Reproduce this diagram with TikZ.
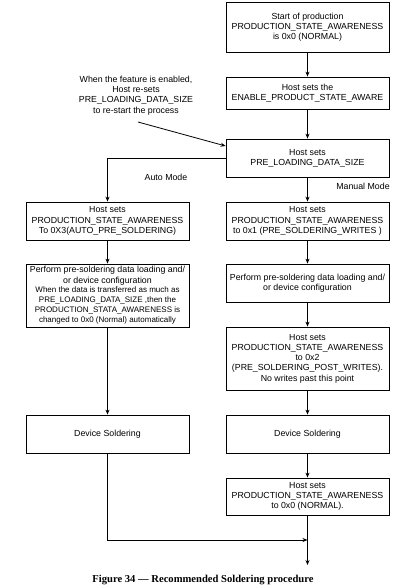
\documentclass[tikz,border=0pt]{standalone}
\usepackage{fontspec}
\setmainfont{Liberation Sans}
\newfontfamily\capfont{Liberation Serif}
\usetikzlibrary{arrows.meta}
\begin{document}
\begin{tikzpicture}[x=1pt,y=-1pt,
  box/.style={draw, line width=0.8pt, minimum width=163pt, align=center, inner sep=1pt,
    font=\fontsize{8.8}{10.2}\selectfont},
  lbl/.style={align=center, inner sep=0pt, font=\fontsize{8.8}{10.2}\selectfont},
  conn/.style={line width=0.8pt, -{Stealth[length=5pt,width=4pt]}},
  plain/.style={line width=0.8pt}]
\useasboundingbox (0,0) rectangle (410,587);
\node[box, minimum height=50pt] (b1) at (307.5,27) {Start of production\\PRODUCTION\_STATE\_AWARENESS\\is 0x0 (NORMAL)};
\node[box, minimum height=32pt] (b2) at (307.5,93) {Host sets the\\ENABLE\_PRODUCT\_STATE\_AWARE};
\node[box, minimum height=38pt] (b3) at (307.5,158) {Host sets\\PRE\_LOADING\_DATA\_SIZE};
\node[lbl] (ann) at (136,95.5) {When the feature is enabled,\\Host re-sets\\PRE\_LOADING\_DATA\_SIZE\\to re-start the process};
\node[lbl] (auto) at (166,177) {Auto Mode};
\node[lbl] (man) at (363,186) {Manual Mode};
\node[box, minimum height=38pt] (l1) at (107.5,221) {Host sets\\PRODUCTION\_STATE\_AWARENESS\\To 0X3(AUTO\_PRE\_SOLDERING)};
\node[box, minimum height=38pt] (r1) at (307.5,221) {Host sets\\PRODUCTION\_STATE\_AWARENESS\\to 0x1 (PRE\_SOLDERING\_WRITES )};
\node[box, minimum height=63pt] (l2) at (107.5,295.5) {Perform pre-soldering data loading and/\\or device configuration\\[-1pt]
  \fontsize{8}{9.8}\selectfont When the data is transferred as much as\\\fontsize{8}{9.8}\selectfont PRE\_LOADING\_DATA\_SIZE ,then the\\\fontsize{8}{9.8}\selectfont PRODUCTION\_STATA\_AWARENESS is\\\fontsize{8}{9.8}\selectfont changed to 0x0 (Normal) automatically};
\node[box, minimum height=38pt] (r2) at (307.5,283) {Perform pre-soldering data loading and/\\or device configuration};
\node[box, minimum height=63pt] (r3) at (307.5,358.5) {Host sets\\PRODUCTION\_STATE\_AWARENESS\\to 0x2\\(PRE\_SOLDERING\_POST\_WRITES).\\No writes past this point};
\node[box, minimum height=38pt] (l3) at (107.5,434) {Device Soldering};
\node[box, minimum height=38pt] (r3b) at (307.5,434) {Device Soldering};
\node[box, minimum height=37pt] (r4) at (307.5,496.5) {Host sets\\PRODUCTION\_STATE\_AWARENESS\\to 0x0 (NORMAL).};
\coordinate (annstart) at (138,122);
\coordinate (merge) at (307.5,540);
\coordinate (fin) at (307.5,565);
\node[inner sep=0pt, font=\capfont\bfseries\fontsize{10.6}{12}\selectfont] (cap) at (203,580) {Figure 34 — Recommended Soldering procedure};
\draw[conn] (b1) -- (b2);
\draw[conn] (b2) -- (b3);
\draw[conn] (annstart) -- ([yshift=12pt]b3.west);
\draw[conn] (b3.west) -| (l1.north);
\draw[conn] (b3) -- (r1);
\draw[conn] (l1) -- (l2);
\draw[conn] (r1) -- (r2);
\draw[conn] (r2) -- (r3);
\draw[conn] (l2) -- (l3);
\draw[conn] (r3) -- (r3b);
\draw[conn] (r3b) -- (r4);
\draw[conn] (l3.south) |- (merge);
\draw[conn] (r4.south) -- (fin);
\end{tikzpicture}
\end{document}
